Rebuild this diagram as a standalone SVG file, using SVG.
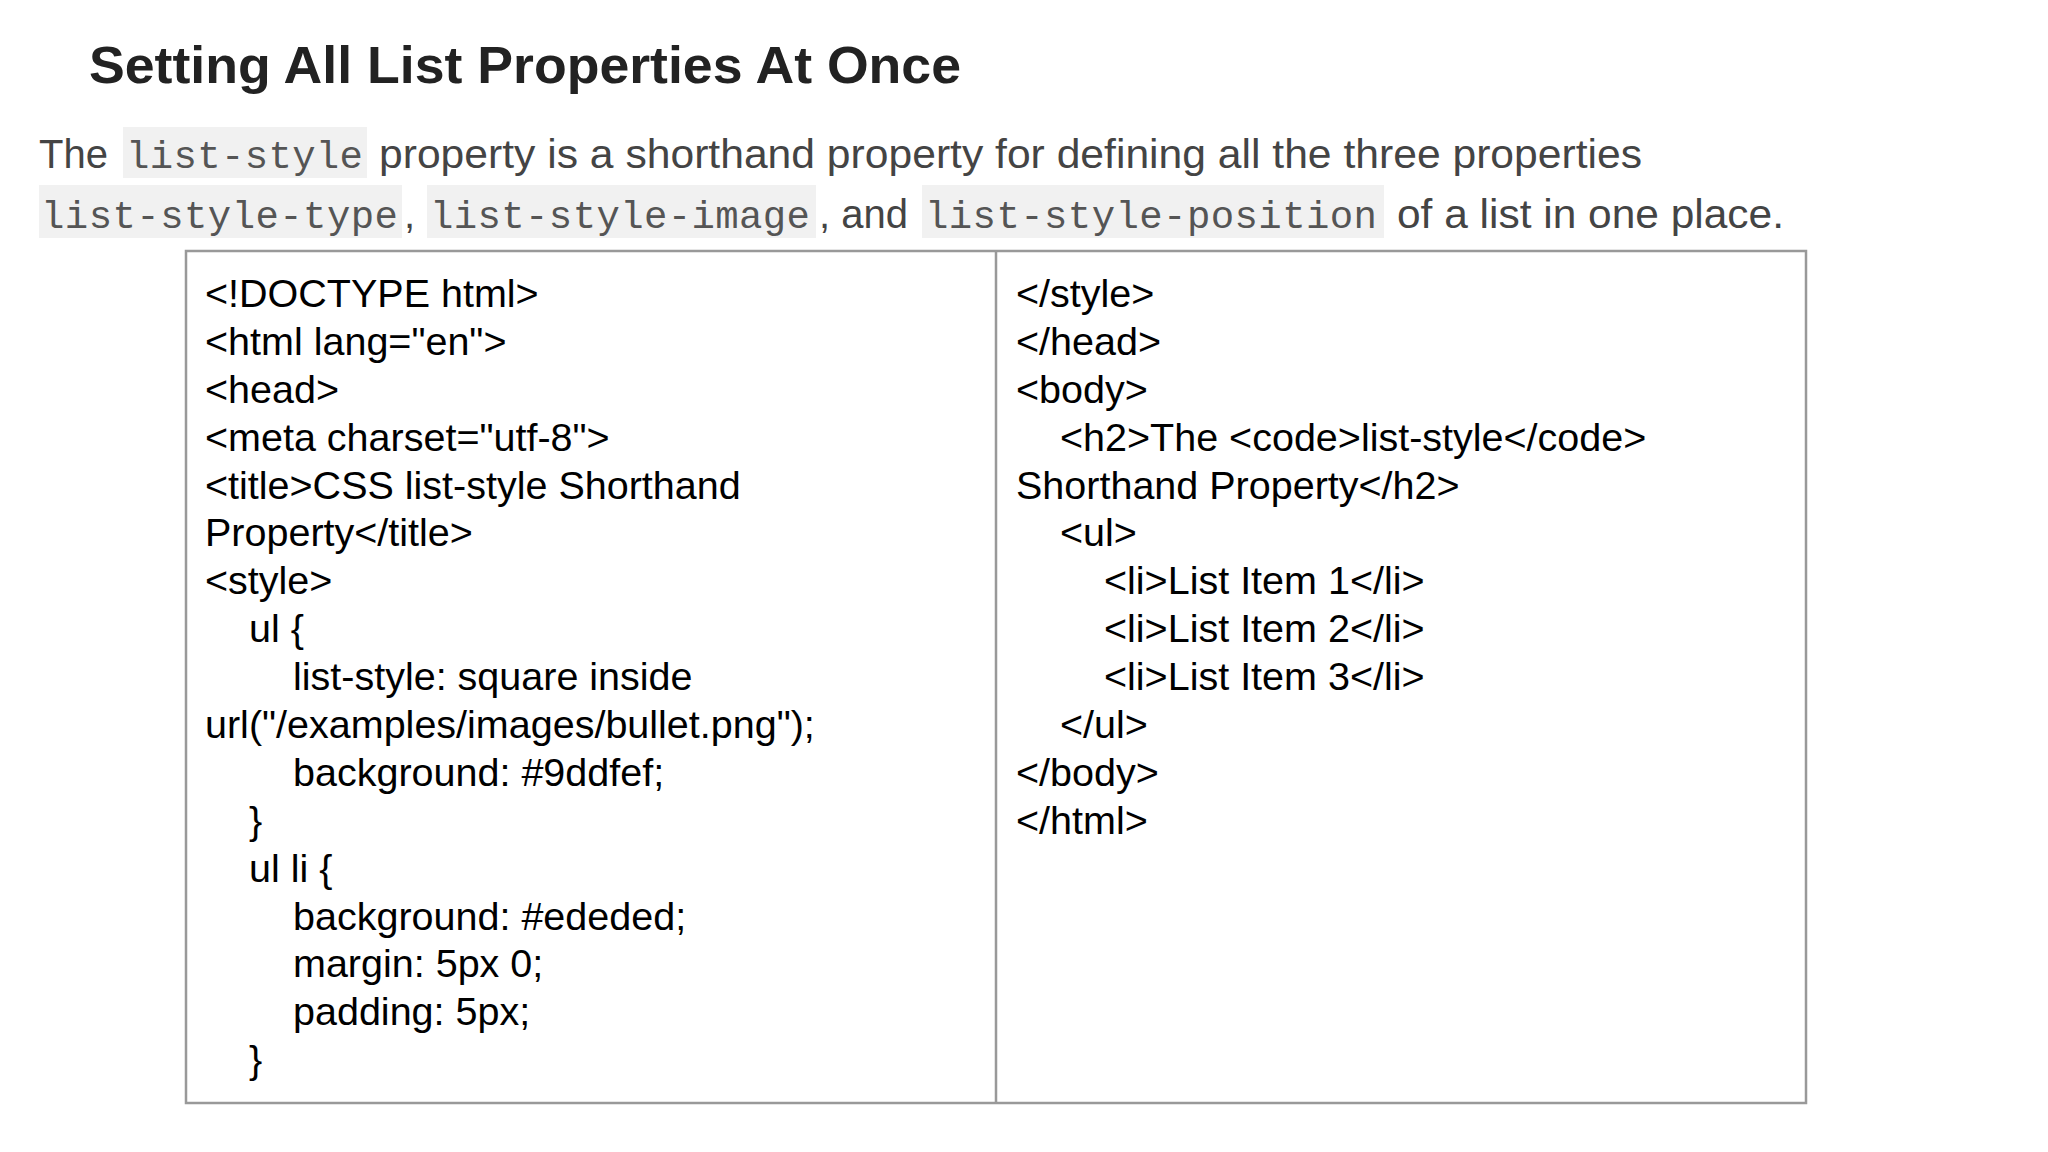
<svg xmlns="http://www.w3.org/2000/svg" width="2048" height="1152" viewBox="0 0 2048 1152">
<style>
.t{font-family:"Liberation Sans",Arial,sans-serif;font-size:52px;font-weight:bold;fill:#222}
.p{font-family:"Liberation Sans",Arial,sans-serif;font-size:40px;fill:#444}
.m{font-family:"Liberation Mono","Courier New",monospace;font-size:39px;fill:#555}
.cb{fill:#f1f1f1}
.c{font-family:"Liberation Sans",Arial,sans-serif;font-size:39.5px;fill:#000}
</style>
<rect width="2048" height="1152" fill="#fff"/>
<g id="title"><text class="t" x="89" y="83" textLength="872" lengthAdjust="spacingAndGlyphs">Setting All List Properties At Once</text></g>
<g id="intro">
<rect class="cb" x="123" y="127" width="244" height="51"/>
<rect class="cb" x="39" y="185" width="363" height="53"/>
<rect class="cb" x="427" y="185" width="389" height="53"/>
<rect class="cb" x="922" y="185" width="462" height="53"/>
<text class="p" x="39" y="168">The</text>
<text class="m" x="126" y="168" textLength="237">list-style</text>
<text class="p" x="379" y="168" textLength="1263" lengthAdjust="spacingAndGlyphs">property is a shorthand property for defining all the three properties</text>
<text class="m" x="41" y="228" textLength="357">list-style-type</text>
<text class="p" x="404" y="228">,</text>
<text class="m" x="430" y="228" textLength="380">list-style-image</text>
<text class="p" x="819" y="228">, and</text>
<text class="m" x="925" y="228" textLength="452">list-style-position</text>
<text class="p" x="1397" y="228" textLength="387" lengthAdjust="spacingAndGlyphs">of a list in one place.</text>
</g>
<g id="codebox">
<rect x="186" y="251" width="1620" height="852" fill="#fff" stroke="#999" stroke-width="2.5"/>
<line x1="996" y1="251" x2="996" y2="1103" stroke="#999" stroke-width="2.5"/>
</g>
<g id="left-code" class="c">
<text x="205" y="307">&lt;!DOCTYPE html&gt;</text>
<text x="205" y="355">&lt;html lang="en"&gt;</text>
<text x="205" y="403">&lt;head&gt;</text>
<text x="205" y="451">&lt;meta charset="utf-8"&gt;</text>
<text x="205" y="499">&lt;title&gt;CSS list-style Shorthand</text>
<text x="205" y="546">Property&lt;/title&gt;</text>
<text x="205" y="594">&lt;style&gt;</text>
<text x="249" y="642">ul {</text>
<text x="293" y="690">list-style: square inside</text>
<text x="205" y="738">url("/examples/images/bullet.png");</text>
<text x="293" y="786">background: #9ddfef;</text>
<text x="249" y="834">}</text>
<text x="249" y="882">ul li {</text>
<text x="293" y="930">background: #ededed;</text>
<text x="293" y="977">margin: 5px 0;</text>
<text x="293" y="1025">padding: 5px;</text>
<text x="249" y="1073">}</text>
</g>
<g id="right-code" class="c">
<text x="1016" y="307">&lt;/style&gt;</text>
<text x="1016" y="355">&lt;/head&gt;</text>
<text x="1016" y="403">&lt;body&gt;</text>
<text x="1060" y="451">&lt;h2&gt;The &lt;code&gt;list-style&lt;/code&gt;</text>
<text x="1016" y="499">Shorthand Property&lt;/h2&gt;</text>
<text x="1060" y="546">&lt;ul&gt;</text>
<text x="1104" y="594">&lt;li&gt;List Item 1&lt;/li&gt;</text>
<text x="1104" y="642">&lt;li&gt;List Item 2&lt;/li&gt;</text>
<text x="1104" y="690">&lt;li&gt;List Item 3&lt;/li&gt;</text>
<text x="1060" y="738">&lt;/ul&gt;</text>
<text x="1016" y="786">&lt;/body&gt;</text>
<text x="1016" y="834">&lt;/html&gt;</text>
</g>
</svg>
